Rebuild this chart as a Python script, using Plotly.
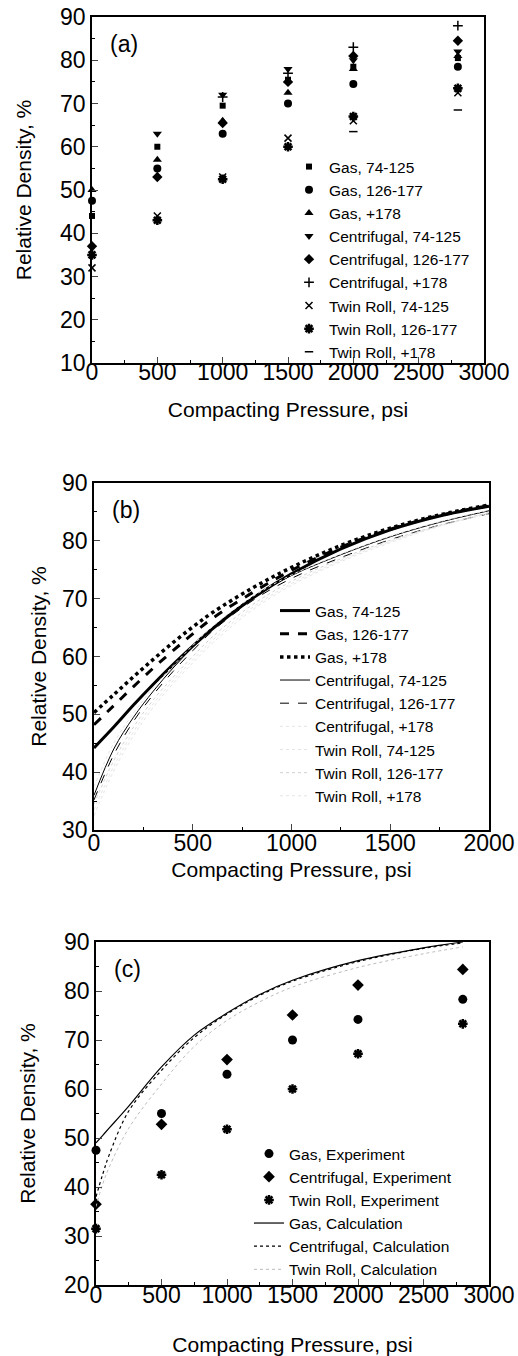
import plotly.graph_objects as go

# ---- panel (a): measured relative density, psi -> %
psi_a = [0, 500, 1000, 1500, 2000, 2800]
gas_74 = [44, 60, 69.5, 75.5, 78.5, 80.5]
gas_126 = [47.5, 55, 63, 70, 74.5, 78.5]
gas_178 = [50, 57, 66, 72.5, 78, 81]
cen_74_x = [500, 1000, 1500, 2000, 2800]
cen_74 = [63, 72, 78, 80, 82]
cen_126 = [37, 53, 65.5, 75, 81, 84.5]
cen_178_x = [1000, 1500, 2000, 2800]
cen_178 = [71.5, 77, 83, 88]
twin_74 = [32, 44, 53, 62, 66, 72.5]
twin_126 = [35, 43, 52.5, 60, 67, 73.5]
twin_178_x = [2000, 2800]
twin_178 = [63.5, 68.5]

# ---- panel (b): fitted curves
psi_b = [0, 100, 200, 300, 400, 500, 600, 800, 1000, 1250, 1500, 1750, 2000]
fit_gas_74 = [44.2, 47.8, 51.6, 55.2, 58.6, 61.8, 64.8, 70.0, 74.3, 78.6, 81.9, 84.3, 86.0]
fit_gas_126 = [48.2, 51.5, 54.8, 58.0, 61.0, 63.9, 66.6, 71.0, 74.9, 78.9, 82.0, 84.4, 86.1]
fit_gas_178 = [50.3, 53.4, 56.5, 59.5, 62.4, 65.1, 67.6, 71.8, 75.4, 79.2, 82.2, 84.5, 86.2]
fit_cen_74 = [36.0, 44.0, 49.5, 54.0, 58.0, 61.6, 65.0, 70.2, 74.0, 77.6, 80.7, 83.2, 85.2]
fit_cen_126 = [35.2, 43.0, 48.8, 53.4, 57.4, 61.0, 64.4, 69.6, 73.5, 77.1, 80.2, 82.7, 84.7]
fit_cen_178 = [37.5, 45.0, 50.2, 54.6, 58.4, 61.9, 65.2, 70.3, 74.1, 77.7, 80.8, 83.3, 85.3]
fit_twin_74 = [33.5, 41.0, 47.0, 51.8, 55.8, 59.4, 62.8, 68.4, 72.6, 76.6, 79.9, 82.6, 84.8]
fit_twin_126 = [34.5, 42.0, 47.8, 52.5, 56.4, 60.0, 63.4, 68.9, 73.0, 76.9, 80.1, 82.7, 84.9]
fit_twin_178 = [32.5, 40.2, 46.3, 51.2, 55.3, 58.9, 62.3, 68.0, 72.3, 76.4, 79.7, 82.5, 84.7]

# ---- panel (c): experiment vs calculation
exp_gas = [47.5, 55, 63, 70, 74.2, 78.3]
exp_cen = [36.5, 52.8, 66, 75.1, 81.2, 84.4]
exp_twin = [31.5, 42.5, 51.8, 60, 67.2, 73.3]
psi_c = [0, 50, 100, 250, 500, 750, 1000, 1250, 1500, 2000, 2500, 2800]
calc_gas = [49.0, 50.5, 52.0, 56.5, 64.5, 71.0, 75.5, 79.3, 82.2, 86.2, 88.8, 90.0]
calc_cen = [38.0, 42.5, 46.5, 55.5, 63.8, 70.5, 75.3, 79.1, 82.0, 86.0, 88.7, 89.8]
calc_twin = [36.0, 40.5, 44.0, 52.0, 61.0, 68.7, 74.0, 77.8, 80.8, 84.8, 87.6, 89.0]

FONT = "Liberation Sans, Arial, sans-serif"
W, H = 518, 1356

fig = go.Figure()

def pts(x, y, name, sym, size, ax, leg, lw=0):
    m = dict(symbol=sym, size=size, color="black", line=dict(color="black", width=lw))
    fig.add_scatter(x=x, y=y, name=name, mode="markers", marker=m, cliponaxis=False,
                    xaxis="x" + ax, yaxis="y" + ax, legend=leg)

def curve(x, y, name, width, dash, ax, leg, color="black"):
    fig.add_scatter(x=x, y=y, name=name, mode="lines", line=dict(color=color, width=width, dash=dash, shape="spline"),
                    xaxis="x" + ax, yaxis="y" + ax, legend=leg)

# (a)
pts(psi_a, gas_74, "Gas, 74-125", "square", 6, "", "legend")
pts(psi_a, gas_126, "Gas, 126-177", "circle", 8, "", "legend")
pts(psi_a, gas_178, "Gas, +178", "triangle-up", 8, "", "legend")
pts(cen_74_x, cen_74, "Centrifugal, 74-125", "triangle-down", 8, "", "legend")
pts(psi_a, cen_126, "Centrifugal, 126-177", "diamond", 8, "", "legend")
pts(cen_178_x, cen_178, "Centrifugal, +178", "cross-thin", 7, "", "legend", 1.5)
pts(psi_a, twin_74, "Twin Roll, 74-125", "x-thin", 7, "", "legend", 1.5)
pts(psi_a, twin_126, "Twin Roll, 126-177", "asterisk", 8, "", "legend", 2.5)
pts(twin_178_x, twin_178, "Twin Roll, +178", "line-ew", 6, "", "legend", 1.5)

# (b)
curve(psi_b, fit_gas_74, "Gas, 74-125", 3, "solid", "2", "legend2")
curve(psi_b, fit_gas_126, "Gas, 126-177", 3, "dash", "2", "legend2")
curve(psi_b, fit_gas_178, "Gas, +178", 3.5, "dot", "2", "legend2")
curve(psi_b, fit_cen_74, "Centrifugal, 74-125", 1, "solid", "2", "legend2")
curve(psi_b, fit_cen_126, "Centrifugal, 126-177", 1, "dash", "2", "legend2")
curve(psi_b, fit_cen_178, "Centrifugal, +178", 1, "dot", "2", "legend2", "#e4e4e4")
curve(psi_b, fit_twin_74, "Twin Roll, 74-125", 1, "dot", "2", "legend2", "#e4e4e4")
curve(psi_b, fit_twin_126, "Twin Roll, 126-177", 1, "dot", "2", "legend2", "#d0d0d0")
curve(psi_b, fit_twin_178, "Twin Roll, +178", 1, "dot", "2", "legend2", "#e4e4e4")

# (c)
pts(psi_a, exp_gas, "Gas, Experiment", "circle", 9, "3", "legend3")
pts(psi_a, exp_cen, "Centrifugal, Experiment", "diamond", 9, "3", "legend3")
pts(psi_a, exp_twin, "Twin Roll, Experiment", "asterisk", 8, "3", "legend3", 2.5)
curve(psi_c, calc_gas, "Gas, Calculation", 1.2, "solid", "3", "legend3")
curve(psi_c, calc_cen, "Centrifugal, Calculation", 1.2, "dot", "3", "legend3")
curve(psi_c, calc_twin, "Twin Roll, Calculation", 1, "dot", "3", "legend3", "#bbbbbb")

def px_x(a, b):
    return [a / W, b / W]

def px_y(top, bottom):
    return [1 - bottom / H, 1 - top / H]

def xax(dom, rng, anchor, standoff, lab_off):
    return dict(domain=dom, range=rng, anchor=anchor, dtick=500, ticks="inside", ticklen=6, tickwidth=1.3,
                minor=dict(ticks="inside", ticklen=3, dtick=250, tickcolor="black"),
                showline=True, mirror=True, linecolor="black", linewidth=1.6, showgrid=False, zeroline=False,
                automargin=False, tickfont=dict(size=23), ticklabelstandoff=lab_off,
                title=dict(text="Compacting Pressure, psi", font=dict(size=21), standoff=standoff))

def yax(dom, rng, anchor, standoff):
    return dict(domain=dom, range=rng, anchor=anchor, dtick=10, ticks="inside", ticklen=6, tickwidth=1.3,
                minor=dict(ticks="inside", ticklen=3, dtick=5, tickcolor="black"),
                showline=True, mirror=True, linecolor="black", linewidth=1.6, showgrid=False, zeroline=False,
                automargin=False, tickfont=dict(size=23),
                title=dict(text="Relative Density, %", font=dict(size=21), standoff=standoff))

def leg(x, y):
    return dict(x=x / W, y=1 - y / H, xanchor="left", yanchor="top", bgcolor="rgba(0,0,0,0)",
                font=dict(size=15.5), tracegroupgap=0)

fig.update_layout(
    width=W, height=H, margin=dict(l=0, r=0, t=0, b=0, autoexpand=False),
    paper_bgcolor="white", plot_bgcolor="white",
    font=dict(family=FONT, color="black"),
    xaxis=xax(px_x(92, 484), [0, 3000], "y", 18, -12),
    yaxis=yax(px_y(17, 363), [10, 90], "x", 23),
    xaxis2=xax(px_x(94, 489), [0, 2000], "y2", 7, -8),
    yaxis2=yax(px_y(483, 830), [30, 90], "x2", 10),
    xaxis3=xax(px_x(96, 489), [0, 3000], "y3", 45, -11),
    yaxis3=yax(px_y(942, 1285), [20, 90], "x3", 23),
    legend=leg(289, 150),
    legend2=leg(275, 594),
    legend3=leg(249, 1137),
    showlegend=True,
)

for txt, ax in [("(a)", ""), ("(b)", "2"), ("(c)", "3")]:
    fig.add_annotation(text=txt, xref="x" + ax + " domain", yref="y" + ax + " domain", x=0.04, y=0.965,
                       xanchor="left", yanchor="top", showarrow=False, font=dict(size=23))

fig.write_html("out.html", config={"displayModeBar": False},
               post_script="document.body.style.margin='0px';")
